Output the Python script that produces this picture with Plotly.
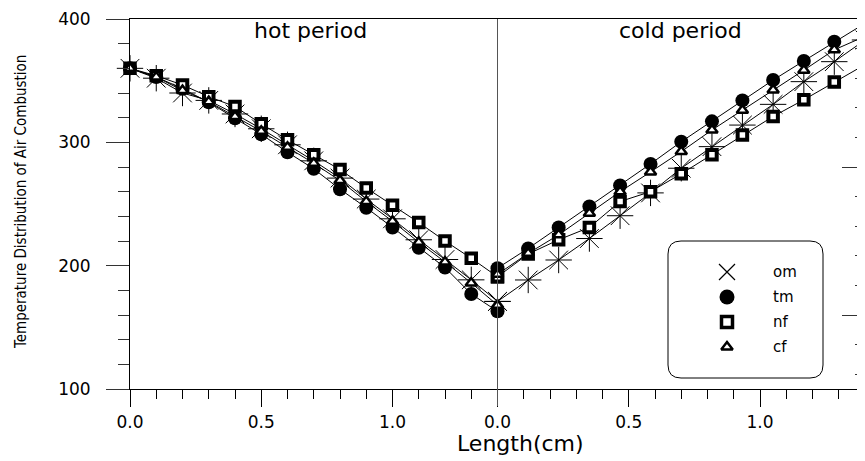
import plotly.graph_objects as go

# ---------------- data ----------------
SERIES = ["om", "tm", "nf", "cf"]
HOT_LEN = [0.0, 0.1, 0.2, 0.3, 0.4, 0.5, 0.6, 0.7, 0.8, 0.9, 1.0, 1.1, 1.2, 1.3, 1.4]
COLD_LEN = [0.0, 0.117, 0.233, 0.35, 0.467, 0.583, 0.7, 0.817, 0.933, 1.05, 1.167, 1.283, 1.4]
HOT_PERIOD_LENGTH = 1.4

hot_om = [360, 352, 340, 334, 323, 311, 298, 285, 271, 254, 238, 221, 205, 188.5, 171]
hot_tm = [360, 353, 343.5, 332.5, 319.5, 306.5, 292, 278.5, 262, 247, 231, 214.5, 198.5, 177, 163]
hot_nf = [360, 354, 346.5, 337, 329, 315, 302, 290, 278, 263, 249, 235, 220, 206, 191]
hot_cf = [360, 353, 342, 333, 321, 309, 296, 283, 269, 252, 236, 219, 203, 186, 168]

cold_om = [171, 188.4, 204.6, 222, 240.5, 259, 279, 296.5, 314, 330.8, 349.2, 365.4, 383]
cold_tm = [198, 214, 231, 248, 265, 282.5, 300.5, 317, 334, 350.5, 366, 381.5, 396.5]
cold_nf = [191, 209.5, 221, 231, 252, 260, 274.5, 290, 306, 321, 334.5, 349, 363]
cold_cf = [193, 210, 225, 242.5, 260, 276, 292.5, 310, 326, 342.5, 358.5, 375, 386]

X_TICK_VALS = [0.0, 0.5, 1.0, 1.4, 1.9, 2.4]
X_TICK_TEXT = ["0.0", "0.5", "1.0", "0.0", "0.5", "1.0"]
Y_TICK_VALS = [100, 200, 300, 400]

HOT = {"om": hot_om, "tm": hot_tm, "nf": hot_nf, "cf": hot_cf}
COLD = {"om": cold_om, "tm": cold_tm, "nf": cold_nf, "cf": cold_cf}

# ---------------- styles ----------------
FONT = "DejaVu Sans"
MARK = {
    "om": dict(symbol="asterisk-open", size=22, color="black", line=dict(color="black", width=1)),
    "tm": dict(symbol="circle", size=14, color="black", line=dict(color="black", width=0)),
    "nf": dict(symbol="square", size=9.5, color="white", line=dict(color="black", width=4)),
    "cf": dict(symbol="triangle-up", size=10, color="white", line=dict(color="black", width=2.5)),
}
LEG_MARK = {
    "om": dict(symbol="x-thin-open", size=16, color="black", line=dict(color="black", width=1.2)),
    "tm": dict(symbol="circle", size=15, color="black", line=dict(color="black", width=0)),
    "nf": dict(symbol="square", size=11, color="white", line=dict(color="black", width=3.5)),
    "cf": dict(symbol="triangle-up", size=10, color="white", line=dict(color="black", width=2.5)),
}

fig = go.Figure()
for s in SERIES:
    fig.add_trace(go.Scatter(x=HOT_LEN, y=HOT[s], mode="lines+markers", name=s,
                             line=dict(color="black", width=1), marker=MARK[s], cliponaxis=False))
    fig.add_trace(go.Scatter(x=[HOT_PERIOD_LENGTH + v for v in COLD_LEN], y=COLD[s],
                             mode="lines+markers", name=s,
                             line=dict(color="black", width=1), marker=MARK[s], cliponaxis=False))

# dummy trace for right-side tick axis
fig.add_trace(go.Scatter(x=[None], y=[None], yaxis="y2", showlegend=False))

# legend entries on their own small axes
for i, s in enumerate(SERIES):
    fig.add_trace(go.Scatter(x=[0.5], y=[i], xaxis="x3", yaxis="y3", mode="markers",
                             marker=LEG_MARK[s], showlegend=False))

# The html page keeps an 8px body margin; offset the figure accordingly.
PAGE_OFF = 8
W, H = 865 - PAGE_OFF, 461 - PAGE_OFF
PL, PT, PB, PR = 130, 19, 389, 865  # plot area in page pixels
ML, MT = PL - PAGE_OFF, PT - PAGE_OFF
MR = W - (PR - PAGE_OFF)
PW, PH = PR - PL, PB - PT
MB = H - MT - PH


def px_x(p):
    return (p - PL) / PW


def px_y(p):
    return (PB - p) / PH


fig.update_layout(
    width=W, height=H, margin=dict(l=ML, r=MR, t=MT, b=MB, pad=0),
    plot_bgcolor="white", paper_bgcolor="white", showlegend=False,
    font=dict(family=FONT, color="black"),
    xaxis=dict(range=[0, 2.8], tickmode="array", tickvals=X_TICK_VALS, ticktext=X_TICK_TEXT,
               ticks="outside", ticklen=17, tickcolor="black", tickwidth=1,
               showline=True, linecolor="black", linewidth=1, mirror=True,
               showgrid=False, zeroline=False, tickfont=dict(family=FONT, size=17),
               ticklabelstandoff=1,
               minor=dict(tickmode="array", tickvals=[round(i * 0.1, 1) for i in range(28)],
                          ticks="outside", ticklen=9, tickcolor="black", showgrid=False)),
    yaxis=dict(range=[100, 400], tickmode="array", tickvals=Y_TICK_VALS,
               ticks="outside", ticklen=23, tickcolor="#333", tickwidth=1,
               showline=True, linecolor="black", linewidth=1,
               showgrid=False, zeroline=False, tickfont=dict(family=FONT, size=17),
               ticklabelstandoff=12,
               minor=dict(dtick=20, tick0=100, ticks="outside", ticklen=11, tickcolor="#333",
                          showgrid=False)),
    yaxis2=dict(overlaying="y", side="right", range=[-0.5, 2], tickmode="array",
                tickvals=[0, 1, 2], ticks="inside", ticklen=23, tickcolor="#333",
                showticklabels=False, showline=False, showgrid=False, zeroline=False,
                minor=dict(dtick=0.2, tick0=0, ticks="inside", ticklen=10, tickcolor="#333",
                           showgrid=False)),
    xaxis3=dict(domain=[px_x(717), px_x(737)], range=[0, 1], visible=False, anchor="y3"),
    yaxis3=dict(domain=[px_y(359.5), px_y(259.5)], range=[3.5, -0.5], visible=False, anchor="x3"),
)

# divider between periods
fig.add_shape(type="line", xref="x", yref="paper", x0=HOT_PERIOD_LENGTH, x1=HOT_PERIOD_LENGTH,
              y0=-17 / PH, y1=1, line=dict(color="#555", width=1))

# rounded legend box
x0, x1 = px_x(668), px_x(823)
y0, y1 = px_y(378), px_y(241)
rx, ry = 13 / PW, 13 / PH
path = (f"M {x0+rx},{y0} L {x1-rx},{y0} Q {x1},{y0} {x1},{y0+ry} L {x1},{y1-ry} "
        f"Q {x1},{y1} {x1-rx},{y1} L {x0+rx},{y1} Q {x0},{y1} {x0},{y1-ry} "
        f"L {x0},{y0+ry} Q {x0},{y0} {x0+rx},{y0} Z")
fig.add_shape(type="path", xref="paper", yref="paper", path=path,
              line=dict(color="black", width=1), fillcolor="rgba(0,0,0,0)")

for i, s in enumerate(SERIES):
    fig.add_annotation(text=s, xref="paper", yref="y3", x=px_x(771), y=i, xanchor="left",
                       yanchor="middle", showarrow=False, font=dict(family=FONT, size=15))

fig.add_annotation(text="hot period", xref="paper", yref="paper", x=px_x(310), y=px_y(30),
                   xanchor="center", yanchor="middle", showarrow=False,
                   font=dict(family=FONT, size=22))
fig.add_annotation(text="cold period", xref="paper", yref="paper", x=px_x(680), y=px_y(30),
                   xanchor="center", yanchor="middle", showarrow=False,
                   font=dict(family=FONT, size=22))
fig.add_annotation(text="Length(cm)", xref="paper", yref="paper", x=px_x(520), y=px_y(443),
                   xanchor="center", yanchor="middle", showarrow=False,
                   font=dict(family=FONT, size=22))
fig.add_annotation(text="Temperature Distribution of Air Combustion", xref="paper", yref="paper",
                   x=px_x(20.5), y=px_y(202.5), xanchor="center", yanchor="middle",
                   textangle=-90, showarrow=False,
                   font=dict(family="DejaVu Sans Condensed, Liberation Sans", size=15))

fig.write_html("out.html")
